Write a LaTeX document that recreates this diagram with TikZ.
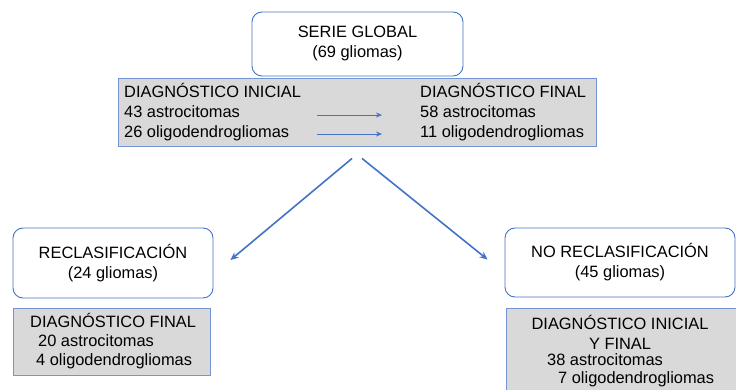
\documentclass[tikz,border=0pt]{standalone}
\usepackage{fontspec}
\setmainfont{Liberation Sans}
\usetikzlibrary{positioning, arrows.meta}
\definecolor{offblue}{HTML}{4472C4}
\definecolor{boxgray}{HTML}{D9D9D9}

\begin{document}
\begin{tikzpicture}[x = 1pt, y = -1pt,
	every node/.style = {font = \fontsize{16.4}{20}\selectfont, inner sep = 0pt},
	txt/.style = {anchor = west, text height = 12pt, text depth = 3.5pt},
	rbox/.style = {draw = offblue, rounded corners = 10pt, line width = 0.9pt, fill = white, align = center},
	gbox/.style = {draw = offblue!75, fill = boxgray, line width = 0.9pt},
	flow/.style = {offblue, line width = 1.6pt, -{Stealth[length = 8pt, width = 7pt]}},
	thinflow/.style = {offblue, line width = 0.6pt, -{Stealth[length = 6pt, width = 5pt]}}
]
\useasboundingbox (0, 0) rectangle (736, 390);

% serie global
\node[rbox, minimum width = 211pt, minimum height = 64pt, text depth = 3.5pt] (serie) at (357.5, 44)
	{SERIE GLOBAL\\(69 gliomas)};
\node[gbox, minimum width = 478pt, minimum height = 68pt] (diag) at (357, 112) {};
\node[txt] (ini)  at (124, 93)  {DIAGNÓSTICO INICIAL};
\node[txt] (ini1) at (124, 113) {43 astrocitomas};
\node[txt] (ini2) at (124, 133) {26 oligodendrogliomas};
\node[txt] (fin)  at (420, 93)  {DIAGNÓSTICO FINAL};
\node[txt] (fin1) at (420, 113) {58 astrocitomas};
\node[txt] (fin2) at (420, 133) {11 oligodendrogliomas};
\draw[thinflow] ([xshift = -40pt, yshift = -2pt]diag.center |- ini1) -- ([xshift = 25pt, yshift = -2pt]diag.center |- fin1);
\draw[thinflow] ([xshift = -40pt, yshift = -1pt]diag.center |- ini2) -- ([xshift = 25pt, yshift = -1pt]diag.center |- fin2);

% reclasificacion
\node[rbox, minimum width = 200pt, minimum height = 70pt] (reclas) at (113, 263)
	{RECLASIFICACIÓN\\(24 gliomas)};
\node[gbox, minimum width = 197pt, minimum height = 67pt] (reclasdiag) at (111.5, 341.5) {};
\node[txt] (rfin)  at (30, 323) {DIAGNÓSTICO FINAL};
\node[txt] (rfin1) at (38, 342) {20 astrocitomas};
\node[txt] (rfin2) at (36, 361) {4 oligodendrogliomas};

% no reclasificacion
\node[rbox, minimum width = 230pt, minimum height = 69pt] (noreclas) at (620, 262.5)
	{NO RECLASIFICACIÓN\\(45 gliomas)};
\node[gbox, minimum width = 230pt, minimum height = 90pt] (noreclasdiag) at (621, 353) {};
\node[align = center] (nfin) at (620, 332) {DIAGNÓSTICO INICIAL\\Y FINAL};
\node[txt] (nfin1) at (547, 361) {38 astrocitomas};
\node[txt] (nfin2) at (558, 379) {7 oligodendrogliomas};

\draw[flow] ([xshift = -5pt, yshift = -12pt]diag.south) -- ([xshift = 17pt, yshift = 3pt]reclas.east);
\draw[flow] ([xshift = 5pt, yshift = -12pt]diag.south) -- ([xshift = -17pt, yshift = 3pt]noreclas.west);
\end{tikzpicture}
\end{document}
